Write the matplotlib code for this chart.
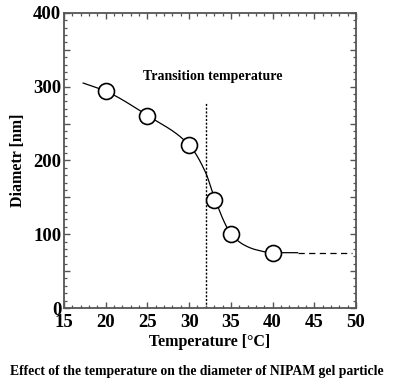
"""
Diameter of NIPAM gel particle vs temperature
"""

import numpy as np
import matplotlib
matplotlib.use('Agg')
import matplotlib.pyplot as plt
from matplotlib.ticker import MultipleLocator, FuncFormatter

plt.rcParams['font.family'] = ['Liberation Serif', 'DejaVu Serif']
plt.rcParams['font.weight'] = 'bold'

# measured points
temp = [20, 25, 30, 33, 35, 40]
diam = [294, 261, 221, 147, 101, 75]

# smooth guide curve
curve_t = [17.3, 20, 25, 30, 32, 33, 35, 36.5, 38, 40, 43]
curve_d = [305, 294, 261, 221, 183, 150, 101, 86, 79, 75, 75]

# dashed extension
dash_t = [43, 49.5]
dash_d = [75, 75]

t_trans = 32
t_trans_top = 278


def pchip(x, y, xs):
    # monotone cubic through the knots
    x = np.asarray(x, float)
    y = np.asarray(y, float)
    h = np.diff(x)
    d = np.diff(y) / h
    m = np.zeros_like(y)
    for k in range(1, len(x) - 1):
        if d[k - 1] * d[k] > 0:
            w1 = 2 * h[k] + h[k - 1]
            w2 = h[k] + 2 * h[k - 1]
            m[k] = (w1 + w2) / (w1 / d[k - 1] + w2 / d[k])
    m[0] = d[0]
    m[-1] = d[-1]
    idx = np.clip(np.searchsorted(x, xs) - 1, 0, len(x) - 2)
    t = (xs - x[idx]) / h[idx]
    h00 = 2 * t**3 - 3 * t**2 + 1
    h10 = t**3 - 2 * t**2 + t
    h01 = -2 * t**3 + 3 * t**2
    h11 = t**3 - t**2
    return (h00 * y[idx] + h10 * h[idx] * m[idx]
            + h01 * y[idx + 1] + h11 * h[idx] * m[idx + 1])


fig = plt.figure(figsize=(3.94, 3.81), dpi=100)
ax = fig.add_axes([0.1624, 0.1916, 0.7412, 0.7743])

xs = np.linspace(curve_t[0], curve_t[-1], 400)
ax.plot(xs, pchip(curve_t, curve_d, xs), color='black', lw=0.9, zorder=2)
ax.plot(dash_t, dash_d, color='black', lw=0.9, ls=(0, (5, 3.5)), zorder=2)
ax.plot([t_trans, t_trans], [0, t_trans_top], color='black', lw=1.0,
        ls=(0, (1.5, 1.2)), zorder=1)
ax.plot(temp, diam, 'o', ms=11.5, mfc='white', mec='black', mew=1.2, zorder=3)

ax.text(32.8, 314, 'Transition temperature', ha='center', va='center',
        fontsize=10, fontweight='bold')

ax.set_xlim(15, 50)
ax.set_ylim(0, 400)
ax.xaxis.set_major_locator(MultipleLocator(5))
ax.xaxis.set_minor_locator(MultipleLocator(1))
ax.yaxis.set_major_locator(MultipleLocator(50))
ax.yaxis.set_minor_locator(MultipleLocator(10))
ax.yaxis.set_major_formatter(FuncFormatter(
    lambda v, p: '%d' % v if v % 100 == 0 else ''))

ax.tick_params(which='both', direction='in', top=True, right=True,
               color='#555555', labelsize=13.5)
ax.tick_params(axis='x', pad=4.2)
ax.tick_params(axis='y', pad=2)
ax.tick_params(which='major', length=4.5, width=1.0)
ax.tick_params(which='minor', length=2.2, width=0.9)
for lbl in ax.get_xticklabels() + ax.get_yticklabels():
    lbl.set_fontweight('bold')
for s in ax.spines.values():
    s.set_color('#555555')
    s.set_linewidth(1.3)

ax.set_xlabel('Temperature [\u00b0C]', fontsize=11.5, fontweight='bold', labelpad=2)
ax.set_ylabel('Diametr [nm]', fontsize=11.5, fontweight='bold', labelpad=5)

fig.text(0.5, 0.025, 'Effect of the temperature on the diameter of NIPAM gel particle',
         ha='center', va='center', fontsize=9.8, fontweight='bold')

plt.savefig('out.png', dpi=100)
